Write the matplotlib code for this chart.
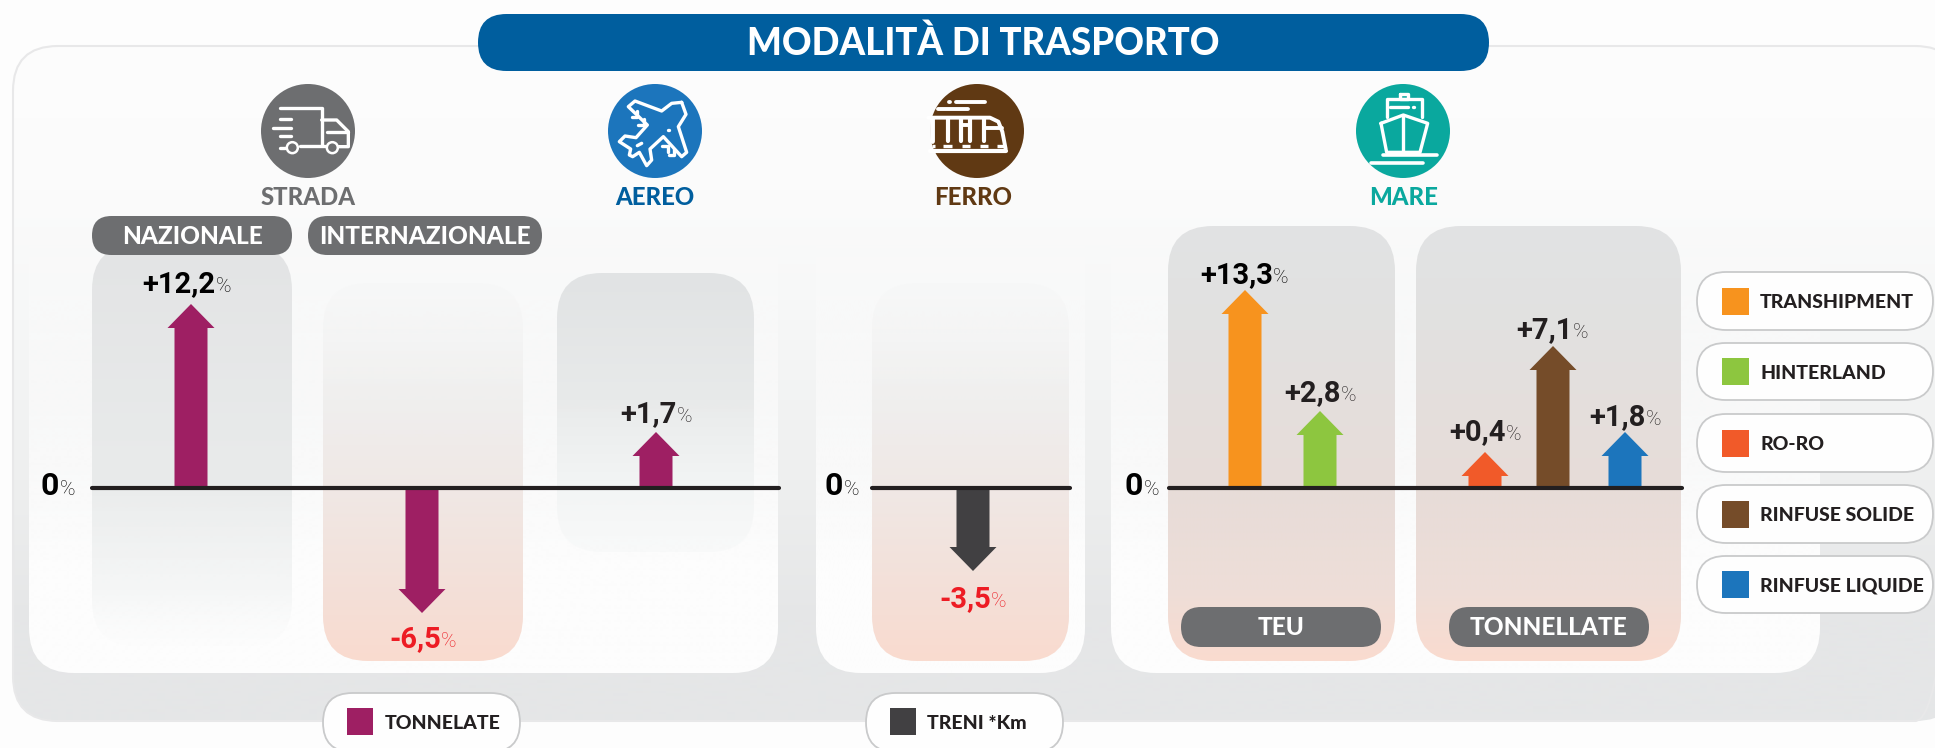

import numpy as np
import matplotlib
matplotlib.use("Agg")
import matplotlib.pyplot as plt
from matplotlib.patches import FancyBboxPatch, Circle, Polygon, Rectangle
from matplotlib.colors import to_rgb

# ---------- data ----------
title = "MODALITÀ DI TRASPORTO"
modes = ["STRADA", "AEREO", "FERRO", "MARE"]
series = ["NAZIONALE", "INTERNAZIONALE", "AEREO", "FERRO", "TRANSHIPMENT", "HINTERLAND", "RO-RO", "RINFUSE SOLIDE", "RINFUSE LIQUIDE"]
values = [12.2, -6.5, 1.7, -3.5, 13.3, 2.8, 0.4, 7.1, 1.8]
# the infographic's arrows are not to scale: drawn length of each arrow
drawn_lengths = [184, -125, 56, -83, 198, 77, 36, 142, 56]
sea_legend = ["TRANSHIPMENT", "HINTERLAND", "RO-RO", "RINFUSE SOLIDE", "RINFUSE LIQUIDE"]
bottom_legend = ["TONNELATE", "TRENI *Km"]
top_pills = ["NAZIONALE", "INTERNAZIONALE"]
sea_pills = ["TEU", "TONNELLATE"]

# ---------- style / layout ----------
W, H = 1935, 748
BLUE, GRAY, PURPLE, DARK = "#005E9E", "#6D6E70", "#9E1F63", "#414042"
ORANGE, GREEN, RORO, BROWN, LBLUE = "#F7931E", "#8DC63F", "#F15A29", "#754C29", "#1C75BC"
TEAL, FBROWN, INK, RED = "#0AA89E", "#603913", "#231F20", "#ED1C24"
arrow_x = [191, 422, 656, 973, 1245, 1320, 1485, 1553, 1625]
arrow_col = [PURPLE, PURPLE, PURPLE, DARK, ORANGE, GREEN, RORO, BROWN, LBLUE]
label_x = [187, 423, 656, 973, 1244, 1320, 1485, 1552, 1625]
label_y = [283, 638, 413, 598, 274, 392, 431, 329, 416]
ZERO = 488

fig = plt.figure(figsize=(W / 100, H / 100), dpi=100, facecolor="#FDFDFD")
ax = fig.add_axes([0, 0, 1, 1])
ax.set_axis_off()
rend = fig.canvas.get_renderer()


def col(c, a=1.0):
    return (*to_rgb(c), a)


def grad(x0, y0, x1, y1, r, stops, z=1):
    ys = np.arange(y0, y1 + 1)
    sy = [s[0] for s in stops]
    cs = np.array([s[1] if len(s[1]) == 4 else (*s[1], 1) for s in stops])
    img = np.stack([np.interp(ys, sy, cs[:, i]) for i in range(4)], axis=1)[:, None, :]
    im = ax.imshow(img, extent=(x0, x1, y1, y0), aspect="auto", zorder=z, interpolation="bilinear")
    clip = FancyBboxPatch((x0, y0), x1 - x0, y1 - y0, boxstyle=f"round,pad=0,rounding_size={r}",
                          transform=ax.transData, fc="none", ec="none")
    ax.add_patch(clip)
    im.set_clip_path(clip)


def pill(x0, y0, x1, y1, fc, ec="none", lw=0, z=5, r=None):
    r = (y1 - y0) / 2 if r is None else r
    ax.add_patch(FancyBboxPatch((x0, y0), x1 - x0, y1 - y0, boxstyle=f"round,pad=0,rounding_size={r}",
                                fc=fc, ec=ec, lw=lw, zorder=z))


def txt(x, y, s, size, color, ha="center", weight="black", fam="Lato", z=8, **kw):
    return ax.text(x, y, s, fontsize=size, color=color, ha=ha, va="baseline", fontweight=weight,
                   family=fam, zorder=z, **kw)


def value_text(cx, base, s, color, size=21):
    a = txt(0, base, s, size, color, ha="left", fam="Roboto", weight="bold")
    b = txt(0, base - 0.5, "%", 15, color, ha="left", weight="light", fam="Roboto")
    wa, wb = a.get_window_extent(rend).width, b.get_window_extent(rend).width
    left = cx - (wa + wb) / 2
    a.set_x(left)
    b.set_x(left + wa)


def arrow(x, length, color, z=6):
    s = 1 if length > 0 else -1
    L = abs(length)
    sh, hd, hl = 16.5, 23.5, 24
    pts = [(x - sh, 0), (x - sh, L - hl), (x - hd, L - hl), (x, L), (x + hd, L - hl), (x + sh, L - hl), (x + sh, 0)]
    ax.add_patch(Polygon([(px, ZERO - s * py) for px, py in pts], closed=True, fc=color, ec="none", zorder=z))


# ---------- panels ----------
grad(13, 46, 1960, 721, 45, [(46, col("#FDFDFD")), (190, col("#FBFBFB")), (300, col("#F7F8F8")),
                             (500, col("#EDEEEE")), (620, col("#E5E6E7")), (721, col("#E5E6E7"))], z=1)
pill(13, 46, 1960, 721, "none", ec="#E8E8E9", lw=1.5, z=1.1, r=45)
for x0, x1 in [(29, 778), (816, 1085), (1111, 1820)]:
    grad(x0, 196, x1, 673, 45, [(196, col("#FFFFFF", 0.0)), (300, col("#FDFDFD", 0.35)),
                                (560, col("#FDFDFD", 1.0)), (673, col("#FDFDFD", 1.0))], z=2)

grad(92, 245, 292, 646, 45, [(245, col("#E3E4E5", 1)), (480, col("#E9EBEB", 0.95)), (590, col("#F0F2F2", 0.6)),
                             (646, col("#F8F9F9", 0.1))], z=3)
grad(557, 273, 754, 552, 45, [(273, col("#E1E3E4", 1)), (400, col("#E8EAEA", 0.95)), (490, col("#F2F4F4", 0.8)),
                              (552, col("#F6F8F8", 0.55))], z=3)
salmon = [(283, col("#F4F5F5", 0.25)), (400, col("#EFEEED", 0.9)), (490, col("#F0E8E5")),
          (600, col("#F4DFD7")), (661, col("#FADBCF"))]
grad(323, 283, 523, 661, 45, salmon, z=3)
grad(872, 283, 1069, 661, 45, salmon, z=3)
sea = [(226, col("#E1E3E4")), (330, col("#E2E1E0")), (490, col("#E7DCD8")), (590, col("#EEDED8")), (661, col("#FADBCF"))]
grad(1168, 226, 1395, 661, 45, sea, z=3)
grad(1416, 226, 1681, 661, 45, sea, z=3)

# ---------- title ----------
pill(478, 14, 1489, 71, BLUE, z=5)
txt(983, 55, title, 26.4, "white")

# ---------- column pills ----------
for (x0, x1), s in zip([(92, 292), (308, 542)], top_pills):
    pill(x0, 216, x1, 255, GRAY)
    txt((x0 + x1) / 2, 243.5, s, 17.6, "white")
for (x0, x1), s in zip([(1181, 1381), (1449, 1649)], sea_pills):
    pill(x0, 607, x1, 647, GRAY)
    txt((x0 + x1) / 2, 635, s, 17.6, "white")

# ---------- arrows, zero lines ----------
for x, L, c in zip(arrow_x, drawn_lengths, arrow_col):
    arrow(x, L, c)
for x0, x1 in [(92, 779), (872, 1070), (1169, 1682)]:
    ax.plot([x0, x1], [ZERO, ZERO], color=INK, lw=3, solid_capstyle="round", zorder=7)
for cx in [58, 842, 1142]:
    txt(cx - 17, 495, "0", 23, "black", ha="left", fam="Roboto", weight="bold")
    txt(cx + 2, 495, "%", 15, "black", ha="left", weight="light", fam="Roboto")

for x, y, v in zip(label_x, label_y, values):
    s = f"{v:+.1f}".replace(".", ",")
    value_text(x, y + 9.5, s, RED if v < 0 else "black" if v > 10 else INK)

# ---------- legends ----------
sea_cols = [ORANGE, GREEN, RORO, BROWN, LBLUE]
for (y0, y1), s, c in zip([(272, 330), (343, 400), (414, 472), (485, 543), (556, 613)], sea_legend, sea_cols):
    pill(1697, y0, 1933, y1, "#FEFEFE", ec="#C9CACB", lw=1.3)
    m = (y0 + y1) / 2
    ax.add_patch(Rectangle((1722, m - 13.5), 27, 27, fc=c, ec="none", zorder=6))
    txt(1760, m + 7, s, 14, INK, ha="left")
for (x0, x1, sx, tx), s, c in zip([(323, 520, 347, 385), (866, 1063, 890, 927)], bottom_legend, [PURPLE, DARK]):
    pill(x0, 693, x1, 752, "#FEFEFE", ec="#C9CACB", lw=1.3)
    ax.add_patch(Rectangle((sx, 708), 26, 27, fc=c, ec="none", zorder=6))
    txt(tx, 729, s, 14, INK, ha="left")

# ---------- icons ----------
icon_x = [308, 655, 977, 1403]
icon_c = [GRAY, LBLUE, FBROWN, TEAL]
text_c = [GRAY, BLUE, FBROWN, TEAL]
text_x = [308, 655, 973, 1404]
for x, c, tc, tx, s in zip(icon_x, icon_c, text_c, text_x, modes):
    ax.add_patch(Circle((x, 131), 47, fc=c, ec="none", zorder=5))
    txt(tx, 204.5, s, 17.2, tc)


def zline(ox, oy, pts, lw=2.4, c="white", z=7, closed=False, cap="round"):
    xy = [(ox + p[0] / 3, oy + p[1] / 3) for p in pts]
    if closed:
        xy.append(xy[0])
    ax.plot(*zip(*xy), color=c, lw=lw, solid_capstyle=cap, solid_joinstyle="round", zorder=z)


# truck
o = (250, 75)
for p in [[(90, 100), (215, 100), (215, 210)], [(215, 135), (260, 135), (295, 170), (295, 215), (265, 215)],
          [(230, 170), (295, 170)], [(150, 213), (225, 213)], [(90, 218), (105, 218)],
          [(90, 133), (122, 133)], [(72, 133), (73, 133)], [(70, 158), (122, 158)], [(50, 158), (51, 158)],
          [(90, 183), (122, 183)], [(72, 183), (73, 183)]]:
    zline(*o, p)
for cx in (127, 247):
    ax.add_patch(Circle((o[0] + cx / 3, o[1] + 218 / 3), 5.5, fc=GRAY, ec="white", lw=1.8, zorder=8))
# plane
o = (600, 75)
zline(*o, [(245, 82), (215, 85), (185, 108), (105, 78), (85, 95), (142, 150), (108, 188), (75, 183), (58, 200),
           (92, 222), (88, 240), (98, 245), (118, 232), (140, 272), (155, 255), (150, 222), (190, 185), (245, 245),
           (260, 232), (235, 155), (258, 118)], closed=True)
for p in [[(95, 125), (112, 125), (112, 108)], [(115, 150), (132, 150), (132, 132)],
          [(185, 212), (203, 212), (203, 230)], [(208, 240), (222, 240), (222, 222)],
          [(112, 212), (125, 205)], [(170, 127), (171, 127)], [(205, 165), (206, 165)]]:
    zline(*o, p)
# train
o = (915, 75)
for p in [[(122, 80), (210, 80)], [(103, 80), (104, 80)], [(70, 103), (158, 103)]]:
    zline(*o, p, lw=2.8)
zline(*o, [(40, 128), (225, 128), (250, 140), (262, 170), (272, 222)], lw=2.8)
for xx, wid in ((50, 3.5), (100, 3), (137, 3), (165, 3), (207, 3)):
    zline(*o, [(xx, 128), (xx, 198)], lw=wid)
zline(*o, [(137, 150), (165, 150)], lw=2.8)
zline(*o, [(207, 160), (262, 160)], lw=2.8)
for a, b in [(50, 60), (85, 110), (140, 165), (195, 220), (245, 270)]:
    zline(*o, [(a, 213), (b, 213)], lw=2.4, cap="butt")
zline(*o, [(45, 228), (272, 228)], lw=3)
# ship
o = (1345, 75)
zline(*o, [(165, 58), (190, 58), (190, 72), (165, 72)], closed=True)
zline(*o, [(125, 125), (125, 72), (230, 72), (230, 125)])
zline(*o, [(135, 97), (190, 97)])
zline(*o, [(205, 97), (206, 97)])
zline(*o, [(108, 145), (175, 120), (248, 145), (225, 232), (125, 232)], closed=True)
zline(*o, [(175, 120), (175, 232)])
zline(*o, [(115, 240), (275, 240)], lw=2.6)
zline(*o, [(288, 238), (289, 238)], lw=2.6)
zline(*o, [(78, 264), (235, 264)], lw=2.6)

ax.set_xlim(0, W)
ax.set_ylim(H, 0)
fig.savefig("out.png", dpi=100, facecolor=fig.get_facecolor())
